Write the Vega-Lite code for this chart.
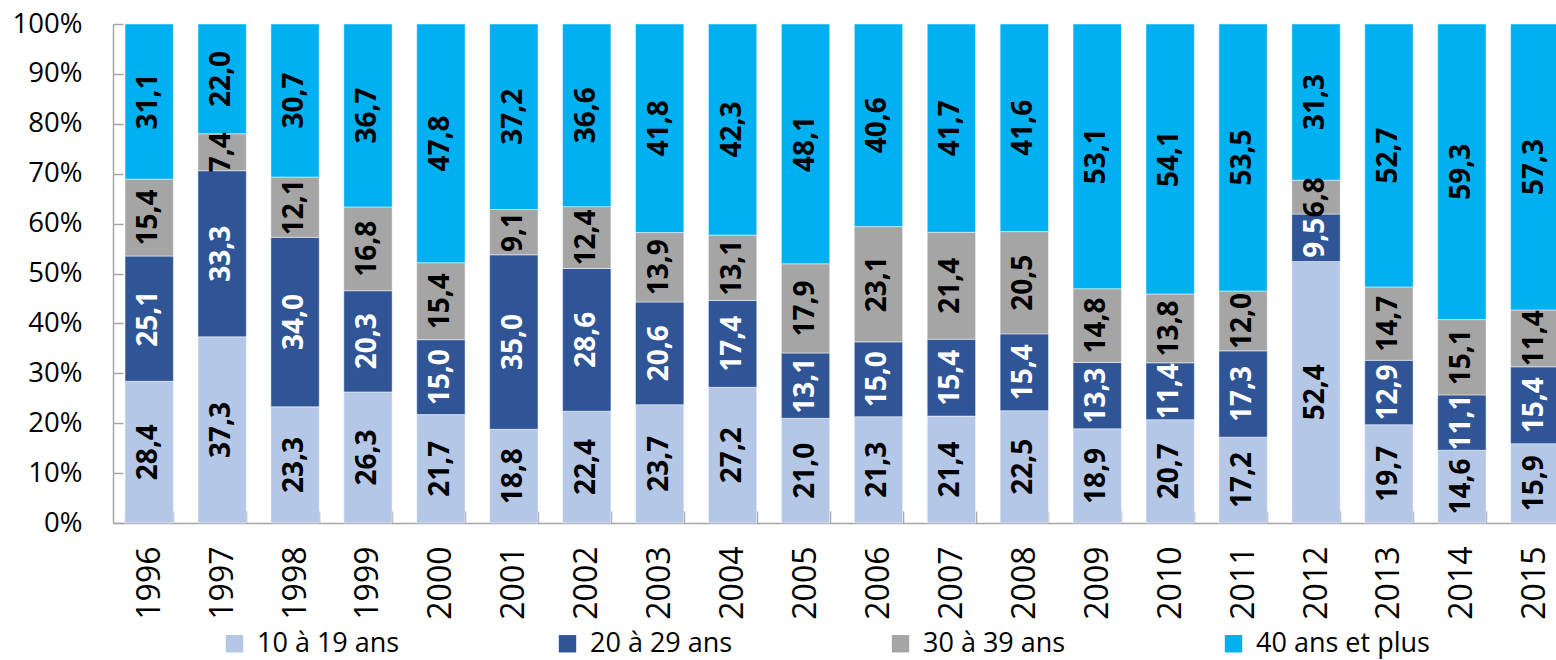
{
  "$schema": "https://vega.github.io/schema/vega-lite/v6.json",
  "width": 1458,
  "height": 499,
  "padding": {"left": 12, "top": 10, "right": 0, "bottom": 8},
  "background": "white",
  "config": {
    "view": {"stroke": null},
    "font": "Open Sans",
    "locale": {"number": {"decimal": ",", "thousands": "\u00a0", "grouping": [3], "currency": ["", " €"]}},
    "axis": {"domainColor": "#A6A6A6", "tickColor": "#A6A6A6", "domainWidth": 1.5, "tickWidth": 1.5, "labelColor": "#000000", "labelFont": "Open Sans", "grid": false, "title": null}
  },
  "data": {"values": [
    {"year": "1996", "age": "10 à 19 ans", "v": 28.4}, {"year": "1996", "age": "20 à 29 ans", "v": 25.1}, {"year": "1996", "age": "30 à 39 ans", "v": 15.4}, {"year": "1996", "age": "40 ans et plus", "v": 31.1},
    {"year": "1997", "age": "10 à 19 ans", "v": 37.3}, {"year": "1997", "age": "20 à 29 ans", "v": 33.3}, {"year": "1997", "age": "30 à 39 ans", "v": 7.4}, {"year": "1997", "age": "40 ans et plus", "v": 22.0},
    {"year": "1998", "age": "10 à 19 ans", "v": 23.3}, {"year": "1998", "age": "20 à 29 ans", "v": 34.0}, {"year": "1998", "age": "30 à 39 ans", "v": 12.1}, {"year": "1998", "age": "40 ans et plus", "v": 30.7},
    {"year": "1999", "age": "10 à 19 ans", "v": 26.3}, {"year": "1999", "age": "20 à 29 ans", "v": 20.3}, {"year": "1999", "age": "30 à 39 ans", "v": 16.8}, {"year": "1999", "age": "40 ans et plus", "v": 36.7},
    {"year": "2000", "age": "10 à 19 ans", "v": 21.7}, {"year": "2000", "age": "20 à 29 ans", "v": 15.0}, {"year": "2000", "age": "30 à 39 ans", "v": 15.4}, {"year": "2000", "age": "40 ans et plus", "v": 47.8},
    {"year": "2001", "age": "10 à 19 ans", "v": 18.8}, {"year": "2001", "age": "20 à 29 ans", "v": 35.0}, {"year": "2001", "age": "30 à 39 ans", "v": 9.1}, {"year": "2001", "age": "40 ans et plus", "v": 37.2},
    {"year": "2002", "age": "10 à 19 ans", "v": 22.4}, {"year": "2002", "age": "20 à 29 ans", "v": 28.6}, {"year": "2002", "age": "30 à 39 ans", "v": 12.4}, {"year": "2002", "age": "40 ans et plus", "v": 36.6},
    {"year": "2003", "age": "10 à 19 ans", "v": 23.7}, {"year": "2003", "age": "20 à 29 ans", "v": 20.6}, {"year": "2003", "age": "30 à 39 ans", "v": 13.9}, {"year": "2003", "age": "40 ans et plus", "v": 41.8},
    {"year": "2004", "age": "10 à 19 ans", "v": 27.2}, {"year": "2004", "age": "20 à 29 ans", "v": 17.4}, {"year": "2004", "age": "30 à 39 ans", "v": 13.1}, {"year": "2004", "age": "40 ans et plus", "v": 42.3},
    {"year": "2005", "age": "10 à 19 ans", "v": 21.0}, {"year": "2005", "age": "20 à 29 ans", "v": 13.1}, {"year": "2005", "age": "30 à 39 ans", "v": 17.9}, {"year": "2005", "age": "40 ans et plus", "v": 48.1},
    {"year": "2006", "age": "10 à 19 ans", "v": 21.3}, {"year": "2006", "age": "20 à 29 ans", "v": 15.0}, {"year": "2006", "age": "30 à 39 ans", "v": 23.1}, {"year": "2006", "age": "40 ans et plus", "v": 40.6},
    {"year": "2007", "age": "10 à 19 ans", "v": 21.4}, {"year": "2007", "age": "20 à 29 ans", "v": 15.4}, {"year": "2007", "age": "30 à 39 ans", "v": 21.4}, {"year": "2007", "age": "40 ans et plus", "v": 41.7},
    {"year": "2008", "age": "10 à 19 ans", "v": 22.5}, {"year": "2008", "age": "20 à 29 ans", "v": 15.4}, {"year": "2008", "age": "30 à 39 ans", "v": 20.5}, {"year": "2008", "age": "40 ans et plus", "v": 41.6},
    {"year": "2009", "age": "10 à 19 ans", "v": 18.9}, {"year": "2009", "age": "20 à 29 ans", "v": 13.3}, {"year": "2009", "age": "30 à 39 ans", "v": 14.8}, {"year": "2009", "age": "40 ans et plus", "v": 53.1},
    {"year": "2010", "age": "10 à 19 ans", "v": 20.7}, {"year": "2010", "age": "20 à 29 ans", "v": 11.4}, {"year": "2010", "age": "30 à 39 ans", "v": 13.8}, {"year": "2010", "age": "40 ans et plus", "v": 54.1},
    {"year": "2011", "age": "10 à 19 ans", "v": 17.2}, {"year": "2011", "age": "20 à 29 ans", "v": 17.3}, {"year": "2011", "age": "30 à 39 ans", "v": 12.0}, {"year": "2011", "age": "40 ans et plus", "v": 53.5},
    {"year": "2012", "age": "10 à 19 ans", "v": 52.4}, {"year": "2012", "age": "20 à 29 ans", "v": 9.5}, {"year": "2012", "age": "30 à 39 ans", "v": 6.8}, {"year": "2012", "age": "40 ans et plus", "v": 31.3},
    {"year": "2013", "age": "10 à 19 ans", "v": 19.7}, {"year": "2013", "age": "20 à 29 ans", "v": 12.9}, {"year": "2013", "age": "30 à 39 ans", "v": 14.7}, {"year": "2013", "age": "40 ans et plus", "v": 52.7},
    {"year": "2014", "age": "10 à 19 ans", "v": 14.6}, {"year": "2014", "age": "20 à 29 ans", "v": 11.1}, {"year": "2014", "age": "30 à 39 ans", "v": 15.1}, {"year": "2014", "age": "40 ans et plus", "v": 59.3},
    {"year": "2015", "age": "10 à 19 ans", "v": 15.9}, {"year": "2015", "age": "20 à 29 ans", "v": 15.4}, {"year": "2015", "age": "30 à 39 ans", "v": 11.4}, {"year": "2015", "age": "40 ans et plus", "v": 57.3}
  ]},
  "transform": [
    {"stack": "v", "groupby": ["year"], "sort": [{"field": "age", "order": "ascending"}], "offset": "normalize", "as": ["y0", "y1"]}
  ],
  "encoding": {
    "x": {
      "field": "year", "type": "nominal", "sort": null,
      "scale": {"paddingInner": 0.337, "paddingOuter": 0.165},
      "axis": {"labelAngle": 270, "labelFontSize": 32, "labelPadding": 35, "tickSize": -12, "tickBand": "extent", "labelBaseline": "middle", "labelAlign": "right"}
    }
  },
  "layer": [
    {
      "mark": {"type": "bar", "stroke": "white", "strokeWidth": 0.8, "strokeOpacity": 0.6},
      "encoding": {
        "y": {"field": "y0", "type": "quantitative", "scale": {"domain": [0, 1], "nice": false},
          "axis": {"format": ".0%", "values": [0, 0.1, 0.2, 0.3, 0.4, 0.5, 0.6, 0.7, 0.8, 0.9, 1], "labelOverlap": false, "labelFontSize": 27.5, "labelPadding": 41, "tickSize": -10}},
        "y2": {"field": "y1"},
        "color": {
          "field": "age", "type": "nominal",
          "scale": {"domain": ["10 à 19 ans", "20 à 29 ans", "30 à 39 ans", "40 ans et plus"], "range": ["#B4C7E7", "#2F5597", "#A5A5A5", "#00B0F0"]},
          "legend": {"title": null, "orient": "none", "direction": "horizontal", "columns": 4, "legendX": 108, "legendY": 606, "symbolType": "square", "symbolSize": 303, "symbolStrokeWidth": 0, "labelFontSize": 27, "labelFont": "Open Sans", "labelColor": "#000000", "labelOffset": 9, "columnPadding": 154, "padding": 0, "labelLimit": 400}
        }
      }
    },
    {
      "transform": [
        {"fold": ["y0", "y1"], "as": ["k", "pos"]},
        {"aggregate": [{"op": "mean", "field": "pos", "as": "mid"}, {"op": "max", "field": "v", "as": "val"}], "groupby": ["year", "age"]}
      ],
      "mark": {"type": "text", "angle": 270, "fontWeight": "bold", "fontSize": 28, "font": "Open Sans", "align": "center", "baseline": "middle"},
      "encoding": {
        "y": {"field": "mid", "type": "quantitative"},
        "text": {"field": "val", "type": "quantitative", "format": ".1f"},
        "color": {"condition": {"test": "datum.age === '20 à 29 ans'", "value": "#FFFFFF"}, "value": "#000000"}
      }
    }
  ]
}
